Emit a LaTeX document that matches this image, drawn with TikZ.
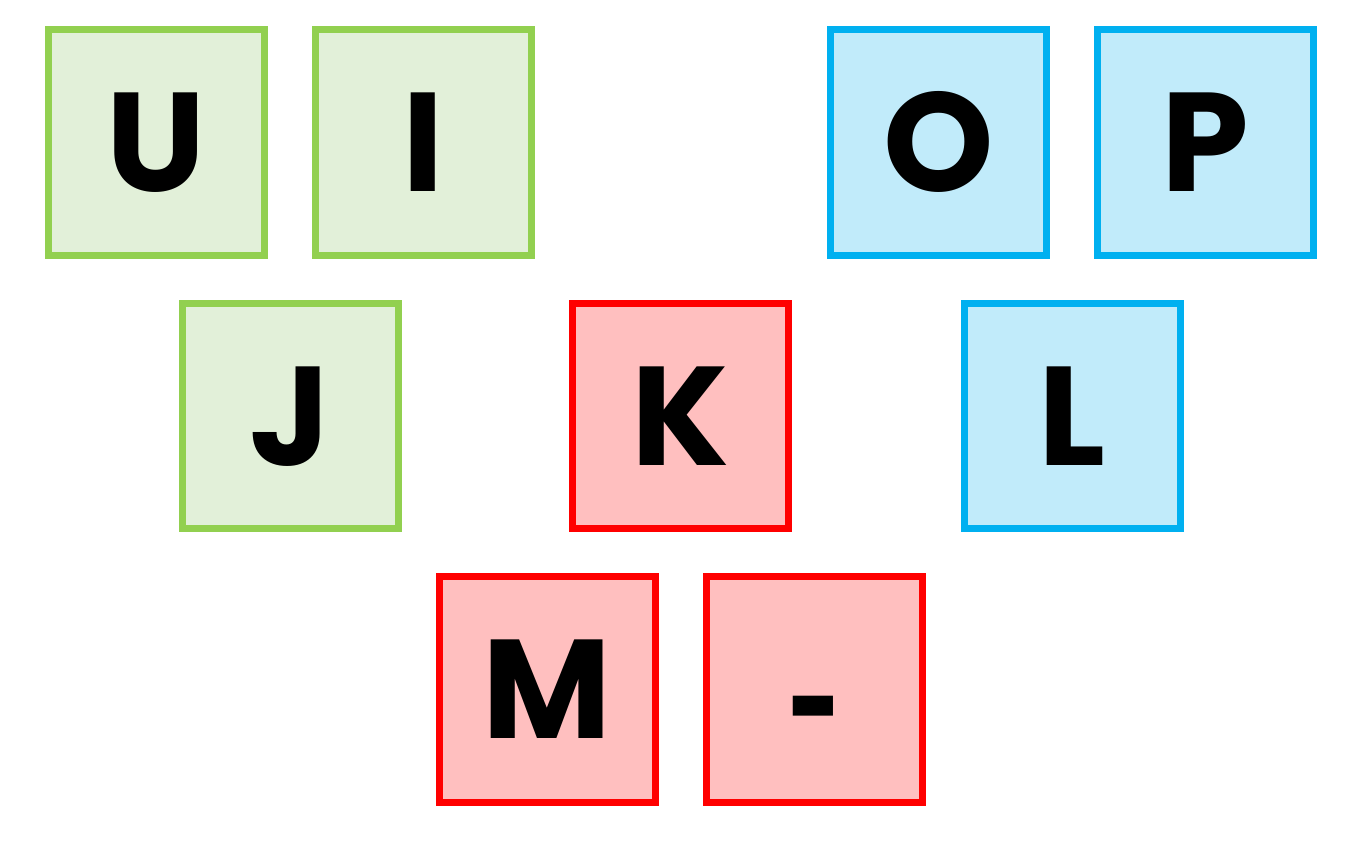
\documentclass[tikz,border=0pt]{standalone}
\usepackage{fontspec}
\setmainfont{Poppins}
\usepackage{tikz}

\definecolor{leftline}{HTML}{92D050}
\definecolor{leftfill}{HTML}{E2F0D9}
\definecolor{rightline}{HTML}{00B0F0}
\definecolor{rightfill}{HTML}{C1EBFA}
\definecolor{midline}{HTML}{FF0000}
\definecolor{midfill}{HTML}{FFBFBF}

\begin{document}
\begin{tikzpicture}[x=0.02cm,y=-0.02cm]
    \tikzstyle{key}=[rectangle,line width=0.14cm,minimum width=4.32cm,minimum height=4.52cm,inner sep=0pt,text height=1.97cm,text depth=0pt,font=\fontsize{80}{80}\selectfont\bfseries]
    \tikzstyle{left key}=[key, draw=leftline, fill=leftfill];
    \tikzstyle{right key}=[key, draw=rightline, fill=rightfill];
    \tikzstyle{mid key}=[key, draw=midline, fill=midfill];

    \useasboundingbox (0,0) rectangle (1361,866);

    % Top row
    \node[left key] (K-U) at (156.5,142.5) {U};
    \node[left key] (K-I) at (423.5,142.5) {I};
    \node[right key] (K-O) at (938.5,142.5) {O};
    \node[right key] (K-P) at (1205.5,142.5) {P};
    % Middle row
    \node[left key] (K-J) at (290.5,416) {J};
    \node[mid key] (K-K) at (680.5,416) {K};
    \node[right key] (K-L) at (1072.5,416) {L};
    % Bottom row
    \node[mid key] (K-M) at (547.5,689.5) {M};
    \node[mid key] (K-minus) at (814.5,689.5) {\raisebox{-0.34cm}{\scalebox{0.65}[1]{-}}};
\end{tikzpicture}
\end{document}
